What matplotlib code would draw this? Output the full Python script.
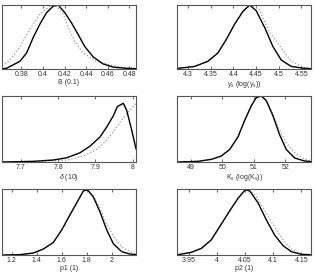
import matplotlib

matplotlib.use("Agg")

import matplotlib.pyplot as plt

plt.rcParams["font.family"] = ["Liberation Sans", "DejaVu Sans"]
plt.rcParams["mathtext.fontset"] = "custom"
plt.rcParams["mathtext.it"] = "Liberation Sans:italic"
plt.rcParams["mathtext.rm"] = "Liberation Sans"

# Panel B
b_x = [0.362, 0.366, 0.3786, 0.3848, 0.3909, 0.3971, 0.4033, 0.4094, 0.4141, 0.4203,
       0.4265, 0.4326, 0.4388, 0.4465, 0.4557, 0.465, 0.4774, 0.4863]
b_post = [0.003, 0.01, 0.12, 0.25, 0.49, 0.70, 0.88, 0.98, 1.0, 0.88,
          0.72, 0.54, 0.35, 0.19, 0.08, 0.03, 0.01, 0.005]
b_dx = [0.362, 0.366, 0.3724, 0.3786, 0.3878, 0.3971, 0.4064, 0.4125, 0.4188, 0.4234,
        0.4296, 0.4372, 0.4495, 0.4680, 0.4863]
b_prior = [0.06, 0.09, 0.20, 0.35, 0.62, 0.86, 0.98, 0.98, 0.86, 0.65,
           0.43, 0.25, 0.12, 0.04, 0.005]

# Panel gamma_s
g_x = [4.276, 4.278, 4.3148, 4.344, 4.366, 4.3844, 4.4028, 4.4211, 4.4359, 4.4504,
       4.4689, 4.4872, 4.5055, 4.5275, 4.557, 4.571]
g_post = [0.005, 0.01, 0.04, 0.12, 0.25, 0.46, 0.70, 0.90, 1.0, 0.91,
          0.65, 0.35, 0.14, 0.04, 0.01, 0.005]
g_dx = [4.276, 4.278, 4.3148, 4.344, 4.366, 4.3844, 4.4028, 4.4211, 4.4395, 4.4578,
        4.4780, 4.5055, 4.5275, 4.557, 4.571]
g_prior = [0.005, 0.01, 0.04, 0.12, 0.25, 0.46, 0.70, 0.90, 1.0, 0.93,
           0.59, 0.33, 0.12, 0.02, 0.008]

# Panel delta
d_x = [7.649, 7.6524, 7.733, 7.7868, 7.8228, 7.8586, 7.8855, 7.9124, 7.9304, 7.9481,
       7.9589, 7.975, 7.9841, 7.9976, 8.009]
d_post = [0.0, 0.0, 0.01, 0.03, 0.064, 0.14, 0.24, 0.38, 0.53, 0.70,
          0.84, 0.89, 0.78, 0.48, 0.20]
d_dx = [7.649, 7.733, 7.8228, 7.8675, 7.9035, 7.9304, 7.9573, 7.9796, 8.009]
d_prior = [0.0, 0.0, 0.03, 0.09, 0.19, 0.33, 0.53, 0.70, 0.89]

# Panel K_s
k_x = [48.556, 48.587, 49.222, 49.645, 49.962, 50.228, 50.492, 50.704, 50.914, 51.073,
       51.232, 51.39, 51.603, 51.816, 52.025, 52.292, 52.61, 52.81]
k_post = [0.0, 0.0, 0.01, 0.04, 0.09, 0.19, 0.38, 0.63, 0.85, 0.975,
          1.0, 0.93, 0.70, 0.41, 0.19, 0.06, 0.015, 0.005]
k_dx = [48.556, 48.587, 49.222, 49.645, 49.962, 50.228, 50.492, 50.704, 50.914, 51.073,
        51.232, 51.39, 51.603, 51.816, 52.025, 52.292, 52.61, 52.81]
k_prior = [0.0, 0.0, 0.01, 0.04, 0.09, 0.19, 0.38, 0.63, 0.85, 0.975,
           1.0, 0.94, 0.72, 0.48, 0.29, 0.14, 0.04, 0.015]

# Panel p1
p1_x = [1.1224, 1.1328, 1.2664, 1.3728, 1.4528, 1.5328, 1.6, 1.6664, 1.72, 1.7728,
        1.8048, 1.8528, 1.9064, 1.96, 2.0128, 2.08, 2.1464, 2.194]
p1_post = [0.0, 0.0, 0.005, 0.03, 0.09, 0.19, 0.38, 0.61, 0.79, 0.97,
           0.99, 0.88, 0.65, 0.38, 0.17, 0.05, 0.014, 0.005]
p1_dx = [1.1224, 1.1328, 1.2664, 1.3728, 1.4528, 1.5328, 1.6, 1.6664, 1.72, 1.7728,
         1.8048, 1.8528, 1.9064, 1.96, 2.0128, 2.08, 2.1464, 2.194]
p1_prior = [0.0, 0.0, 0.005, 0.03, 0.09, 0.19, 0.38, 0.61, 0.79, 0.96,
            0.99, 0.90, 0.70, 0.47, 0.29, 0.12, 0.05, 0.02]

# Panel p2
p2_x = [3.9296, 3.9314, 3.955, 3.9727, 3.9904, 4.0082, 4.023, 4.0378, 4.0507, 4.0585,
        4.0732, 4.088, 4.1028, 4.1176, 4.1323, 4.15, 4.167]
p2_post = [0.005, 0.005, 0.04, 0.10, 0.23, 0.47, 0.67, 0.86, 0.99, 0.97,
           0.79, 0.53, 0.30, 0.14, 0.05, 0.01, 0.003]
p2_dx = [3.9296, 3.9314, 3.955, 3.9727, 3.9904, 4.0082, 4.023, 4.0378, 4.0507, 4.0585,
         4.0732, 4.088, 4.1028, 4.1176, 4.1323, 4.15, 4.167]
p2_prior = [0.005, 0.005, 0.04, 0.10, 0.23, 0.47, 0.67, 0.86, 0.98, 0.99,
            0.85, 0.63, 0.42, 0.23, 0.09, 0.02, 0.005]

panels = [
    (b_x, b_post, b_dx, b_prior, (0.362, 0.4863), [0.38, 0.4, 0.42, 0.44, 0.46, 0.48],
     ["0.38", "0.4", "0.42", "0.44", "0.46", "0.48"], "B (0.1)"),
    (g_x, g_post, g_dx, g_prior, (4.276, 4.571), [4.3, 4.35, 4.4, 4.45, 4.5, 4.55],
     ["4.3", "4.35", "4.4", "4.45", "4.5", "4.55"], r"$\gamma_s$ (log($\gamma_s$))"),
    (d_x, d_post, d_dx, d_prior, (7.649, 8.009), [7.7, 7.8, 7.9, 8.0],
     ["7.7", "7.8", "7.9", "8"], r"$\delta$ (10)"),
    (k_x, k_post, k_dx, k_prior, (48.556, 52.81), [49, 50, 51, 52],
     ["49", "50", "51", "52"], r"K$_s$ (log(K$_s$))"),
    (p1_x, p1_post, p1_dx, p1_prior, (1.1224, 2.194), [1.2, 1.4, 1.6, 1.8, 2.0],
     ["1.2", "1.4", "1.6", "1.8", "2"], "p1 (1)"),
    (p2_x, p2_post, p2_dx, p2_prior, (3.9296, 4.167), [3.95, 4.0, 4.05, 4.1, 4.15],
     ["3.95", "4", "4.05", "4.1", "4.15"], "p2 (1)"),
]

W, H = 316, 273
fig = plt.figure(figsize=(W / 100, H / 100), dpi=100)

col_left = [2, 177]
row_top = [5, 96, 189]
row_bot = [69, 162, 255]
ax_w = 134

for i, (px, post, dx, prior, xlim, ticks, labels, xlabel) in enumerate(panels):
    r, c = divmod(i, 2)
    x0 = col_left[c] / W
    y0 = 1 - row_bot[r] / H
    h = (row_bot[r] - row_top[r]) / H
    ax = fig.add_axes([x0, y0, ax_w / W, h])
    ax.plot(dx, prior, color="#999999", linestyle=":", linewidth=0.9)
    ax.plot(px, post, color="black", linewidth=1.0)
    ax.set_xlim(*xlim)
    ax.set_ylim(0, 1.0)
    ax.set_yticks([])
    ax.set_xticks(ticks)
    ax.set_xticklabels(labels)
    ax.tick_params(axis="x", direction="in", length=2, width=0.5, top=True,
                   labelsize=5, pad=1.5, colors="#333333")
    ax.set_xlabel(xlabel, fontsize=5, labelpad=0.5, color="#333333")
    for s in ax.spines.values():
        s.set_linewidth(0.8)
        s.set_color("#555555")

fig.savefig("out.png", dpi=100)
